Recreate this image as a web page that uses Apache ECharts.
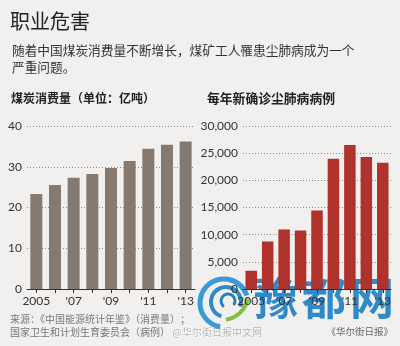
<!DOCTYPE html>
<html><head><meta charset="utf-8">
<script src="https://cdn.jsdelivr.net/npm/echarts@6/dist/echarts.min.js"></script>
<style>html,body{margin:0;padding:0;background:#f2f0ee;}#c{width:400px;height:346px;}</style>
</head><body><div id="c"></div>
<script>
const years = ["2005","'06","'07","'08","'09","'10","'11","'12","'13"];
const coalConsumption = [23.3, 25.5, 27.3, 28.2, 29.7, 31.4, 34.4, 35.4, 36.2];
const newCases = [3360, 8750, 10960, 10770, 14450, 23950, 26500, 24300, 23250];
const coalTicks = [0, 10, 20, 30, 40];
const caseTicks = [0, 5000, 10000, 15000, 20000, 25000, 30000];

const FONT = '"Noto Sans CJK SC", "Noto Sans", sans-serif';
const chart = echarts.init(document.getElementById('c'));

function xAxis(gi){
  return {
    type:'category', gridIndex:gi, data:years,
    axisLine:{show:true, lineStyle:{color:'#333', width:1}},
    axisTick:{show:true, interval:0, alignWithLabel:true, length:4, lineStyle:{color:'#333'}},
    axisLabel:{interval:1, color:'#333', fontSize:12, margin:6, fontFamily:'Lato, "Noto Sans", sans-serif'}
  };
}
function yAxis(gi, ticks, fmt){
  return {
    type:'value', gridIndex:gi, min:ticks[0], max:ticks[ticks.length-1],
    interval:ticks[1]-ticks[0],
    axisLine:{show:false}, axisTick:{show:false},
    axisLabel:{color:'#333', fontSize:12, margin:5, formatter:fmt, fontFamily:'Lato, "Noto Sans", sans-serif'},
    splitLine:{show:true, lineStyle:{color:'#8a8a8a', type:[1,2], width:1}}
  };
}

chart.setOption({
  backgroundColor:'#f2f0ee',
  animation:false,
  grid:[
    {left:27, top:126, width:168, height:163},
    {left:243, top:126, width:148, height:163}
  ],
  xAxis:[xAxis(0), xAxis(1)],
  yAxis:[
    yAxis(0, coalTicks, v=>String(v)),
    yAxis(1, caseTicks, v=>v.toLocaleString('en-US'))
  ],
  series:[
    {type:'bar', xAxisIndex:0, yAxisIndex:0, data:coalConsumption, barWidth:12, itemStyle:{color:'#857970'}},
    {type:'bar', xAxisIndex:1, yAxisIndex:1, data:newCases, barWidth:11.5, itemStyle:{color:'#b0322c'}}
  ],
  graphic:[
    {type:'text', left:10, top:11, style:{text:'职业危害', font:'20px '+FONT, fill:'#222'}},
    {type:'text', left:12, top:42, style:{text:'随着中国煤炭消费量不断增长，煤矿工人罹患尘肺病成为一个\n严重问题。', font:'12.7px '+FONT, fill:'#333', lineHeight:17}},
    {type:'text', left:11, top:92, style:{text:'煤炭消费量（单位：亿吨）', font:'bold 12px '+FONT, fill:'#222'}},
    {type:'text', left:207, top:92, style:{text:'每年新确诊尘肺病病例', font:'bold 12.8px '+FONT, fill:'#222'}},
    {type:'text', left:10, top:313, style:{text:'来源：《中国能源统计年鉴》（消费量）；\n国家卫生和计划生育委员会（病例）', font:'10px '+FONT, fill:'#777', lineHeight:13}},
    {type:'text', right:7, top:327, style:{text:'《华尔街日报》', font:'9.5px '+FONT, fill:'#666'}},
    // watermark
    {type:'text', left:172, top:327, style:{text:'@华尔街日报中文网', font:'10px '+FONT, fill:'#b0b0b0', stroke:'#ffffff', lineWidth:1}},
    {type:'arc', shape:{cx:224, cy:303, r:24, startAngle:Math.PI*0.55, endAngle:Math.PI*1.9}, style:{stroke:'#3a9ad6', lineWidth:5, fill:null}},
    {type:'arc', shape:{cx:226, cy:302, r:15, startAngle:Math.PI*0.6, endAngle:Math.PI*2.1}, style:{stroke:'#2e8acb', lineWidth:4, fill:null}},
    {type:'arc', shape:{cx:228, cy:301, r:7, startAngle:Math.PI*0.7, endAngle:Math.PI*2.2}, style:{stroke:'#2580c3', lineWidth:3, fill:null}},
    {type:'arc', shape:{cx:222, cy:294, r:26, startAngle:Math.PI*0.05, endAngle:Math.PI*0.45}, style:{stroke:'#7cc243', lineWidth:4, fill:null}},
    {type:'text', left:254, top:276, style:{text:'豫', font:'bold 44px '+FONT, fill:'#1f80c6', opacity:0.92}},
    {type:'text', left:302, top:276, style:{text:'都', font:'bold 44px '+FONT, fill:'#1f80c6', opacity:0.92}},
    {type:'text', left:350, top:276, style:{text:'网', font:'bold 44px '+FONT, fill:'#1f80c6', opacity:0.92}}
  ]
});
</script></body></html>
